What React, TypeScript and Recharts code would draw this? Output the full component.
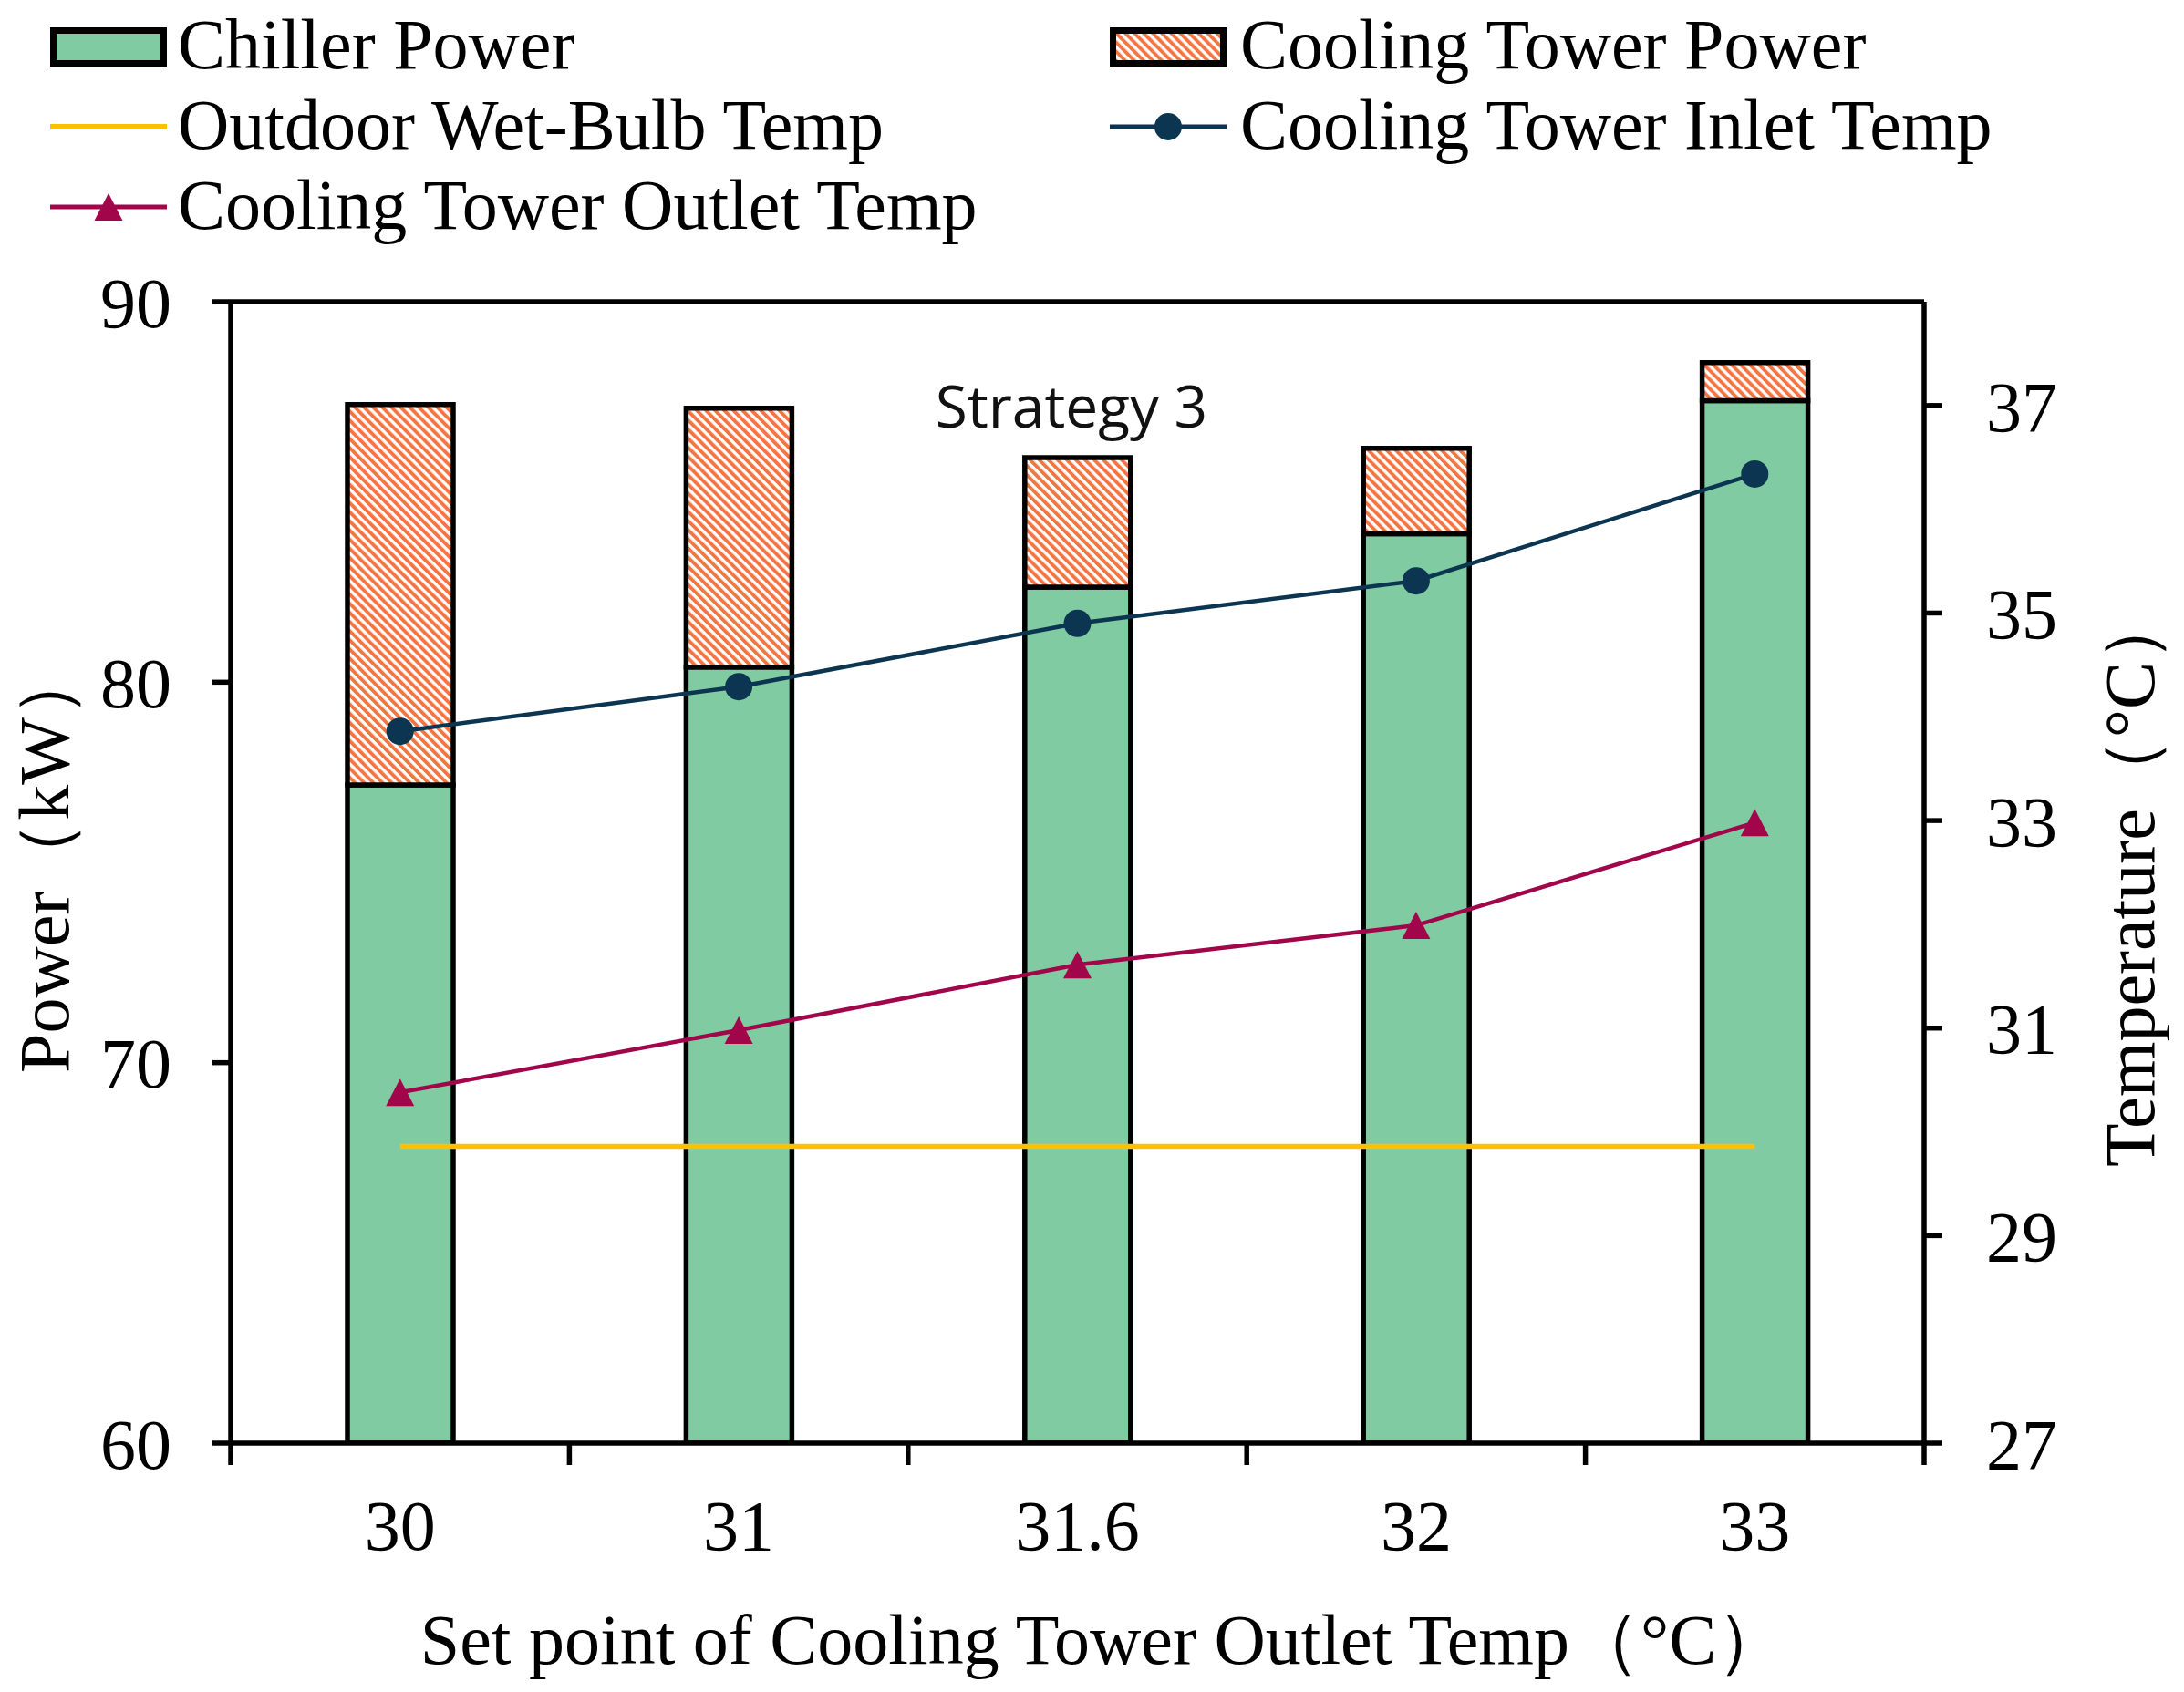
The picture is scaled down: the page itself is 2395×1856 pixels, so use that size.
import React from 'react';
import { ComposedChart, Bar, Line, XAxis, YAxis, ReferenceLine } from 'recharts';

const categories = ['30', '31', '31.6', '32', '33'];
const chillerPower = [77.3, 80.4, 82.5, 83.9, 87.4];
const towerPower = [10.0, 6.8, 3.4, 2.25, 1.0];
const wetBulbTemp = [29.86, 29.86, 29.86, 29.86, 29.86];
const inletTemp = [33.86, 34.29, 34.9, 35.31, 36.34];
const outletTemp = [30.38, 30.98, 31.61, 31.99, 32.98];

const leftTicks = [60, 70, 80, 90];
const rightTicks = [27, 29, 31, 33, 35, 37];
const boundaryTicks = [0, 0.5, 1, 1.5, 2, 2.5, 3, 3.5, 4, 4.5, 5];

const data = categories.map((c, i) => ({
  cat: c,
  slot: i + 0.5,
  chiller: chillerPower[i],
  tower: towerPower[i],
  wetbulb: wetBulbTemp[i],
  inlet: inletTemp[i],
  outlet: outletTemp[i],
}));

const SERIF = "'Liberation Serif', 'Times New Roman', serif";
const GREEN = '#80CBA2';
const ORANGE = '#F47442';
const NAVY = '#0B3550';
const CRIMSON = '#A1064B';
const YELLOW = '#FFC000';
const SW = 5.5;
const FS = 78;

const TriangleDot = (props: any) => {
  const { cx, cy, index } = props;
  if (cx == null || cy == null) return null;
  const s = 31;
  const h = 30;
  return (
    <path
      key={`tri-${index}`}
      d={`M${cx},${cy - h / 2} L${cx + s / 2},${cy + h / 2} L${cx - s / 2},${cy + h / 2} Z`}
      fill={CRIMSON}
    />
  );
};

const BottomTick = (props: any) => {
  const { x, y, payload } = props;
  const v = payload.value as number;
  if (Number.isInteger(v)) {
    return <line x1={x} x2={x} y1={y} y2={y + 24} stroke="#000" strokeWidth={SW} />;
  }
  const label = categories[Math.floor(v)];
  return (
    <text x={x} y={y + 117} textAnchor="middle" fontFamily={SERIF} fontSize={FS} fill="#000">
      {label}
    </text>
  );
};

const LeftTitle = (props: any) => {
  const vb = props.viewBox;
  const x = vb.x + 75;
  const y = vb.y + vb.height / 2 - 14;
  return (
    <text x={x} y={y} transform={`rotate(-90 ${x} ${y})`} textAnchor="middle" fontFamily={SERIF} fontSize={FS} fill="#000">
      Power（kW）
    </text>
  );
};

const RightTitle = (props: any) => {
  const vb = props.viewBox;
  const x = vb.x + 252;
  const y = vb.y + vb.height / 2 + 7;
  return (
    <text x={x} y={y} transform={`rotate(-90 ${x} ${y})`} textAnchor="middle" fontFamily={SERIF} fontSize={FS} fill="#000">
      Temperature（°C）
    </text>
  );
};

const BottomTitle = (props: any) => {
  const vb = props.viewBox;
  const x = vb.x + vb.width / 2 + 29;
  const y = vb.y + 242;
  return (
    <text x={x} y={y} textAnchor="middle" fontFamily={SERIF} fontSize={FS} fill="#000">
      Set point of Cooling Tower Outlet Temp（°C）
    </text>
  );
};

const LegendOverlay = () => (
  <svg width={2395} height={1856} style={{ position: 'absolute', left: 0, top: 0, pointerEvents: 'none' }}>
    <rect x={58.5} y={33.5} width={121} height={36} fill={GREEN} stroke="#000" strokeWidth={7} />
    <text x={195} y={75} fontFamily={SERIF} fontSize={FS} fill="#000">Chiller Power</text>

    <rect x={1220.5} y={33.5} width={121} height={36} fill="url(#hatchTower)" stroke="#000" strokeWidth={7} />
    <text x={1360} y={75} fontFamily={SERIF} fontSize={FS} fill="#000">Cooling Tower Power</text>

    <line x1={55} x2={183} y1={139} y2={139} stroke={YELLOW} strokeWidth={6} />
    <text x={195} y={163} fontFamily={SERIF} fontSize={FS} fill="#000">Outdoor Wet-Bulb Temp</text>

    <line x1={1217} x2={1345} y1={139} y2={139} stroke={NAVY} strokeWidth={5} />
    <circle cx={1281} cy={139} r={15} fill={NAVY} />
    <text x={1360} y={163} fontFamily={SERIF} fontSize={FS} fill="#000">Cooling Tower Inlet Temp</text>

    <line x1={55} x2={183} y1={227} y2={227} stroke={CRIMSON} strokeWidth={5} />
    <path d="M119,212 L134.5,242 L103.5,242 Z" fill={CRIMSON} />
    <text x={195} y={251} fontFamily={SERIF} fontSize={FS} fill="#000">Cooling Tower Outlet Temp</text>

    <text x={1175} y={469} textAnchor="middle" fontFamily="'Open Sans', sans-serif" fontSize={64} fill="#111">
      Strategy 3
    </text>
  </svg>
);

export default function App() {
  return (
    <div style={{ position: 'absolute', left: 0, top: 0, width: 2395, height: 1856, background: '#fff' }}>
      <svg width={0} height={0} style={{ position: 'absolute' }}>
        <defs>
          <pattern id="hatchTower" patternUnits="userSpaceOnUse" width={7.1} height={7.1} patternTransform="rotate(-45)">
            <rect x={0} y={0} width={7.1} height={7.1} fill="#fff" />
            <rect x={0} y={0} width={3.8} height={7.1} fill={ORANGE} />
          </pattern>
        </defs>
      </svg>
      <div style={{ position: 'absolute', left: 0, top: 0 }}>
        <ComposedChart width={2395} height={1856} data={data} margin={{ top: 331, right: 0, bottom: 0, left: 0 }}>
          <XAxis
            xAxisId="num"
            dataKey="slot"
            type="number"
            domain={[0, 5]}
            allowDataOverflow
            ticks={boundaryTicks}
            interval={0}
            height={273}
            tickLine={false}
            tickSize={0}
            tickMargin={0}
            axisLine={{ stroke: '#000', strokeWidth: SW }}
            tick={<BottomTick />}
            label={{ content: BottomTitle }}
          />
          <XAxis dataKey="cat" xAxisId="cat" type="category" hide height={0} />
          <YAxis
            yAxisId="left"
            orientation="left"
            width={253}
            domain={[60, 90]}
            allowDataOverflow
            ticks={leftTicks}
            interval={0}
            tickSize={20}
            tickMargin={45}
            axisLine={{ stroke: '#000', strokeWidth: SW }}
            tickLine={{ stroke: '#000', strokeWidth: SW }}
            tick={{ fontFamily: SERIF, fontSize: FS, fill: '#000' }}
            label={{ content: LeftTitle }}
          />
          <YAxis
            yAxisId="right"
            orientation="right"
            width={285}
            domain={[27, 38]}
            ticks={rightTicks}
            interval={0}
            tickSize={20}
            tickMargin={48}
            axisLine={{ stroke: '#000', strokeWidth: SW }}
            tickLine={{ stroke: '#000', strokeWidth: SW }}
            tick={{ fontFamily: SERIF, fontSize: FS, fill: '#000', textAnchor: 'start' }}
            label={{ content: RightTitle }}
          />
          <ReferenceLine yAxisId="left" xAxisId="cat" y={90} stroke="#000" strokeWidth={SW} />
          <Bar
            dataKey="chiller"
            stackId="p"
            xAxisId="cat"
            yAxisId="left"
            barSize={116}
            fill={GREEN}
            stroke="#000"
            strokeWidth={SW}
            isAnimationActive={false}
          />
          <Bar
            dataKey="tower"
            stackId="p"
            xAxisId="cat"
            yAxisId="left"
            barSize={116}
            fill="url(#hatchTower)"
            stroke="#000"
            strokeWidth={SW}
            isAnimationActive={false}
          />
          <Line
            dataKey="wetbulb"
            xAxisId="cat"
            yAxisId="right"
            type="linear"
            stroke={YELLOW}
            strokeWidth={5.5}
            dot={false}
            activeDot={false}
            isAnimationActive={false}
          />
          <Line
            dataKey="inlet"
            xAxisId="cat"
            yAxisId="right"
            type="linear"
            stroke={NAVY}
            strokeWidth={4.5}
            dot={{ r: 15, fill: NAVY, stroke: NAVY, strokeWidth: 0 }}
            activeDot={false}
            isAnimationActive={false}
          />
          <Line
            dataKey="outlet"
            xAxisId="cat"
            yAxisId="right"
            type="linear"
            stroke={CRIMSON}
            strokeWidth={4.5}
            dot={TriangleDot}
            activeDot={false}
            isAnimationActive={false}
          />
        </ComposedChart>
      </div>
      <LegendOverlay />
    </div>
  );
}
